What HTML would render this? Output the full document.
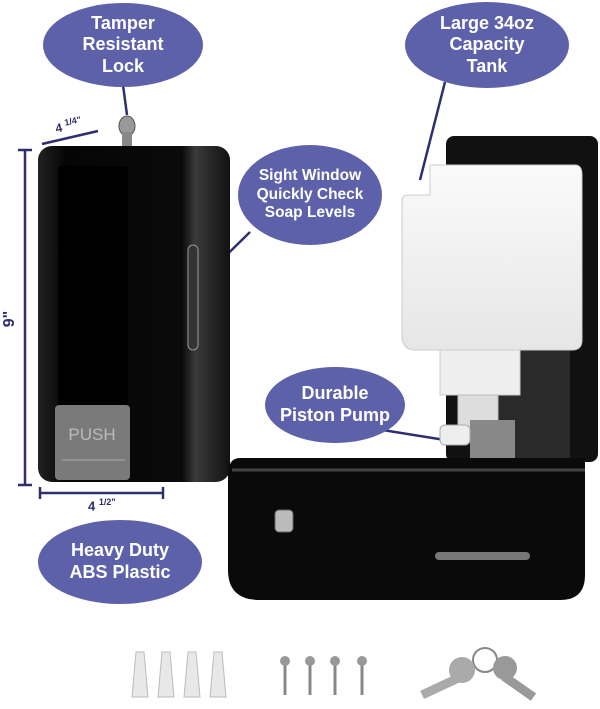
<!DOCTYPE html>
<html><head><style>
body{margin:0;width:600px;height:709px;background:#fff;position:relative;overflow:hidden;font-family:"Liberation Sans",sans-serif}
.e{position:absolute;background:#5d61a9;border-radius:50%;color:#fff;font-weight:bold;text-align:center;display:flex;align-items:center;justify-content:center;line-height:1.2}
</style></head><body>
<svg width="600" height="709" style="position:absolute;left:0;top:0">
<defs>
<linearGradient id="g1" x1="0" x2="1"><stop offset="0" stop-color="#222"/><stop offset=".15" stop-color="#050505"/><stop offset=".75" stop-color="#0a0a0a"/><stop offset=".82" stop-color="#3a3a3a"/><stop offset="1" stop-color="#111"/></linearGradient>
<linearGradient id="g2" x1="0" x2="0" y1="0" y2="1"><stop offset="0" stop-color="#fafafa"/><stop offset="1" stop-color="#e6e6e6"/></linearGradient>
</defs>
<g stroke="#2d2f6e" stroke-width="2.5" fill="none">
<line x1="123" y1="85" x2="127" y2="115"/>
<line x1="25" y1="150" x2="25" y2="485"/><line x1="18" y1="150" x2="32" y2="150"/><line x1="18" y1="485" x2="32" y2="485"/>
<line x1="40" y1="493" x2="163" y2="493"/><line x1="40" y1="487" x2="40" y2="499"/><line x1="163" y1="487" x2="163" y2="499"/>
<line x1="42" y1="144" x2="98" y2="131"/>
<line x1="193" y1="288" x2="250" y2="232"/>
<line x1="445" y1="82" x2="420" y2="180"/>
<line x1="370" y1="428" x2="445" y2="440"/>
</g>
<ellipse cx="127" cy="126" rx="8" ry="10" fill="#999" stroke="#555"/>
<rect x="122" y="132" width="10" height="14" fill="#888"/>
<rect x="38" y="146" width="192" height="336" rx="14" fill="url(#g1)"/>
<rect x="58" y="166" width="70" height="300" fill="#000"/>
<rect x="188" y="245" width="10" height="105" rx="5" fill="#333" stroke="#999"/>
<rect x="55" y="405" width="75" height="75" rx="4" fill="#7a7a7a"/>
<text x="92" y="440" font-size="17" fill="#bbb" text-anchor="middle" font-family="Liberation Sans">PUSH</text>
<line x1="62" y1="460" x2="125" y2="460" stroke="#aaa"/>
<rect x="446" y="136" width="152" height="326" rx="8" fill="#111"/>
<rect x="470" y="340" width="100" height="120" fill="#2a2a2a"/>
<path d="M430 165 L575 165 Q582 165 582 175 L582 340 Q582 350 572 350 L415 350 Q402 350 402 335 L402 200 Q402 195 410 195 L430 195 Z" fill="url(#g2)" stroke="#ccc"/>
<rect x="440" y="350" width="80" height="45" fill="#eee" stroke="#ccc"/>
<rect x="458" y="395" width="40" height="35" fill="#ddd" stroke="#bbb"/>
<rect x="470" y="420" width="45" height="40" fill="#888"/>
<rect x="440" y="425" width="30" height="20" rx="5" fill="#eee" stroke="#aaa"/>
<path d="M240 458 L585 458 L585 575 Q585 600 560 600 L260 600 Q228 600 228 570 L228 475 Q228 458 240 458 Z" fill="#0a0a0a"/>
<path d="M232 470 L585 470" stroke="#444" stroke-width="3"/>
<rect x="275" y="510" width="18" height="22" rx="4" fill="#bbb" stroke="#666"/>
<rect x="435" y="552" width="95" height="8" rx="4" fill="#777"/>
<g fill="#e8e8e8" stroke="#bbb">
<path d="M136 652 l8 0 l4 45 l-16 0 z"/><path d="M162 652 l8 0 l4 45 l-16 0 z"/><path d="M188 652 l8 0 l4 45 l-16 0 z"/><path d="M214 652 l8 0 l4 45 l-16 0 z"/>
</g>
<g stroke="#888" stroke-width="3">
<line x1="285" y1="662" x2="285" y2="695"/><line x1="310" y1="662" x2="310" y2="695"/><line x1="335" y1="662" x2="335" y2="695"/><line x1="362" y1="662" x2="362" y2="695"/>
</g>
<g fill="#999"><circle cx="285" cy="661" r="5"/><circle cx="310" cy="661" r="5"/><circle cx="335" cy="661" r="5"/><circle cx="362" cy="661" r="5"/></g>
<circle cx="485" cy="660" r="12" fill="none" stroke="#888" stroke-width="2"/>
<circle cx="462" cy="670" r="13" fill="#aaa"/><rect x="420" y="682" width="40" height="9" fill="#aaa" transform="rotate(-25 440 686)"/>
<circle cx="505" cy="668" r="12" fill="#999"/><rect x="503" y="676" width="36" height="9" fill="#999" transform="rotate(35 510 680)"/>
</svg>
<div style="position:absolute;left:55px;top:117px;font-size:12px;color:#2d2f6e;font-weight:bold;transform:rotate(-12deg)">4 <sup style="font-size:9px">1/4"</sup></div>
<div style="position:absolute;left:2px;top:310px;font-size:16px;color:#2d2f6e;font-weight:bold;transform:rotate(-90deg)">9"</div>
<div style="position:absolute;left:88px;top:497px;font-size:13px;color:#2d2f6e;font-weight:bold">4 <sup style="font-size:9px">1/2"</sup></div>
<div class="e" style="left:43px;top:3px;width:160px;height:84px;font-size:18px">Tamper<br>Resistant<br>Lock</div>
<div class="e" style="left:405px;top:2px;width:164px;height:86px;font-size:18px">Large 34oz<br>Capacity<br>Tank</div>
<div class="e" style="left:238px;top:145px;width:144px;height:100px;font-size:15.5px">Sight Window<br>Quickly Check<br>Soap Levels</div>
<div class="e" style="left:265px;top:367px;width:140px;height:76px;font-size:18px">Durable<br>Piston Pump</div>
<div class="e" style="left:38px;top:520px;width:164px;height:84px;font-size:18px">Heavy Duty<br>ABS Plastic</div>
</body></html>
